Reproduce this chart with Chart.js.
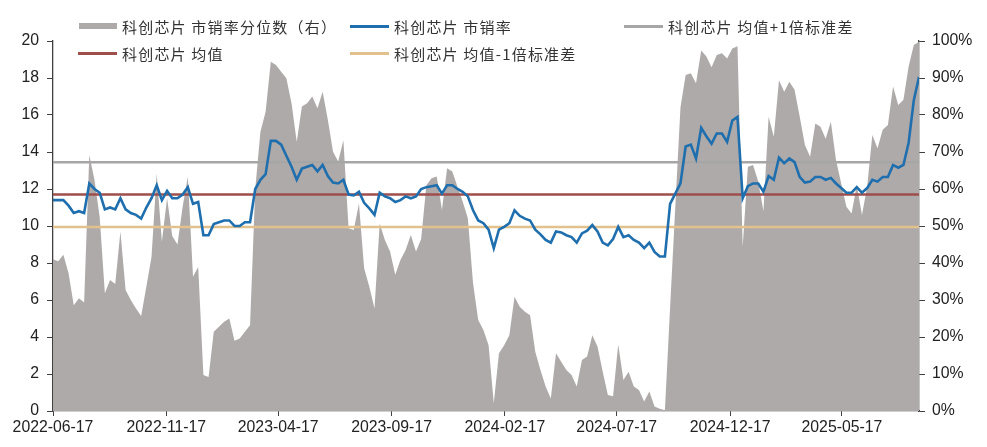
<!DOCTYPE html>
<html>
<head>
<meta charset="utf-8">
<script src="https://cdn.jsdelivr.net/npm/chart.js@4.4.1/dist/chart.umd.min.js"></script>
<style>
  body { margin: 0; background: #fff; }
  #wrap { position: relative; width: 987px; height: 447px; }
  #legend { position: absolute; left: 0; top: 0; width: 987px; height: 70px;
            font: 15px "Noto Sans CJK SC", sans-serif; color: #333; letter-spacing: 1.2px; }
  .item { position: absolute; display: flex; align-items: center; white-space: nowrap; height: 20px; }
  .sw { display: inline-block; margin-right: 5px; }
</style>
</head>
<body>
<div id="wrap">
  <canvas id="chart" width="987" height="447"></canvas>
  <div id="legend"></div>
</div>
<script>
/* === Data (weekly, from 2022-06-17) === */
const START = '2022-06-17';

// 科创芯片 市销率
const PS_RATIO = [
  11.4, 11.4, 11.4, 11.1, 10.7, 10.8, 10.7, 12.3, 12.0, 11.8,
  10.9, 11.0, 10.9, 11.5, 10.9, 10.7, 10.6, 10.4, 11.0, 11.5,
  12.2, 11.4, 11.9, 11.5, 11.5, 11.7, 12.1, 11.2, 11.3, 9.5,
  9.5, 10.1, 10.2, 10.3, 10.3, 10.0, 10.0, 10.2, 10.2, 12.0,
  12.5, 12.8, 14.6, 14.6, 14.4, 13.8, 13.2, 12.5, 13.1, 13.2,
  13.3, 12.95, 13.3, 12.7, 12.35, 12.3, 12.5, 11.7, 11.65, 11.85,
  11.25, 10.95, 10.6, 11.8, 11.6, 11.5, 11.3, 11.4, 11.6, 11.5,
  11.6, 12.0, 12.1, 12.15, 12.2, 11.75, 12.2, 12.2, 12.0, 11.85,
  11.6, 10.85, 10.3, 10.15, 9.8, 8.8, 9.8, 9.95, 10.15, 10.85,
  10.55, 10.4, 10.3, 9.8, 9.55, 9.25, 9.1, 9.7, 9.65, 9.5,
  9.4, 9.1, 9.6, 9.75, 10.05, 9.7, 9.1, 8.95, 9.3, 9.95,
  9.4, 9.5, 9.25, 9.1, 8.8, 9.1, 8.6, 8.35, 8.35, 11.2,
  11.75, 12.3, 14.3, 14.4, 13.65, 15.3, 14.85, 14.45, 15.0, 15.0,
  14.55, 15.7, 15.9, 11.5, 12.15, 12.3, 12.3, 11.85, 12.7, 12.5,
  13.7, 13.4, 13.65, 13.45, 12.65, 12.35, 12.4, 12.65, 12.65, 12.5,
  12.6, 12.3, 12.05, 11.8, 11.8, 12.1, 11.8, 12.05, 12.5, 12.4,
  12.65, 12.65, 13.3, 13.15, 13.3, 14.5, 16.8, 18.05
];

// 科创芯片 市销率分位数（右）, %
const PS_PCT = [
  41.0, 40.5, 42.2, 37.2, 28.6, 30.5, 29.3, 69.2, 62.4, 52.5,
  31.8, 35.4, 34.3, 48.5, 32.7, 30.0, 27.7, 25.7, 33.6, 41.7,
  64.2, 45.8, 57.5, 47.3, 45.0, 55.2, 63.3, 36.3, 38.9, 9.7,
  9.2, 21.4, 22.8, 24.1, 25.0, 19.0, 19.6, 21.4, 23.2, 60.0,
  75.5, 80.9, 94.4, 93.5, 91.7, 89.9, 83.2, 72.8, 82.3, 83.2,
  85.0, 81.8, 86.3, 78.7, 70.1, 67.4, 73.2, 49.4, 48.9, 56.1,
  38.6, 33.6, 27.7, 50.7, 46.2, 43.1, 36.8, 40.8, 43.5, 47.6,
  43.1, 46.5, 61.0, 62.9, 63.4, 54.3, 65.6, 64.7, 60.6, 56.6,
  52.1, 34.5, 24.6, 21.9, 17.8, 2.1, 15.6, 17.8, 20.5, 30.9,
  28.2, 26.8, 25.9, 16.0, 11.1, 6.6, 3.4, 15.6, 13.3, 11.1,
  9.7, 6.6, 13.8, 14.7, 20.5, 17.4, 10.7, 4.3, 4.0, 18.0,
  8.4, 10.6, 6.6, 5.7, 2.6, 5.3, 1.2, 0.6, 0.2, 28.0,
  55.0, 82.0, 90.8, 91.3, 88.6, 97.4, 95.8, 92.9, 96.2, 96.7,
  95.3, 98.0, 98.6, 44.4, 66.0, 66.5, 62.0, 54.0, 79.5, 74.1,
  89.4, 86.3, 89.0, 86.8, 79.5, 71.9, 68.7, 77.7, 76.8, 73.6,
  78.2, 67.8, 61.5, 55.2, 53.4, 61.1, 53.0, 60.6, 74.6, 71.0,
  76.0, 77.3, 87.7, 82.7, 84.1, 93.1, 98.9, 99.8
];

const MEAN  = 11.7;   // 均值
const UPPER = 13.45;  // 均值+1倍标准差
const LOWER = 9.95;   // 均值-1倍标准差

const X_TICKS = ['2022-06-17','2022-11-17','2023-04-17','2023-09-17',
                 '2024-02-17','2024-07-17','2024-12-17','2025-05-17'];

/* === Helpers === */
const DAY = 864e5;
const t0 = Date.parse(START + 'T00:00:00Z');
const dayOf = s => (Date.parse(s + 'T00:00:00Z') - t0) / DAY;
const fmt = d => new Date(t0 + d * DAY).toISOString().slice(0, 10);
const DAYS = PS_RATIO.map((_, i) => i * 7);
const LAST = DAYS[DAYS.length - 1];

const NAMES = ['科创芯片 市销率分位数（右）', '科创芯片 市销率', '科创芯片 均值+1倍标准差',
               '科创芯片 均值', '科创芯片 均值-1倍标准差'];
const COLORS = { area: '#AEAAAA', blue: '#1F6FAE', upper: '#A6A6A6', mean: '#9E4E4B', lower: '#E2C18C' };

const flat = v => [{ x: 0, y: v }, { x: LAST, y: v }];
const FONT = { family: '"Liberation Sans", Arial, sans-serif', size: 15.8 };
const AX = '#404040';

/* === Chart === */
new Chart(document.getElementById('chart'), {
  type: 'line',
  data: {
    datasets: [
      { label: NAMES[1], data: PS_RATIO.map((y, i) => ({ x: DAYS[i], y })), yAxisID: 'y',
        borderColor: COLORS.blue, borderWidth: 2.6, pointRadius: 0, order: 0 },
      { label: NAMES[2], data: flat(UPPER), yAxisID: 'y',
        borderColor: COLORS.upper, borderWidth: 2.6, pointRadius: 0, order: 1 },
      { label: NAMES[3], data: flat(MEAN), yAxisID: 'y',
        borderColor: COLORS.mean, borderWidth: 2.6, pointRadius: 0, order: 1 },
      { label: NAMES[4], data: flat(LOWER), yAxisID: 'y',
        borderColor: COLORS.lower, borderWidth: 2.6, pointRadius: 0, order: 1 },
      { label: NAMES[0], data: PS_PCT.map((y, i) => ({ x: DAYS[i], y })), yAxisID: 'y2',
        fill: 'origin', backgroundColor: COLORS.area, borderWidth: 0, pointRadius: 0, order: 5 }
    ]
  },
  options: {
    responsive: false,
    animation: false,
    layout: { padding: { top: 41, left: 0, right: 0, bottom: 0 } },
    plugins: { legend: { display: false }, tooltip: { enabled: false } },
    scales: {
      x: {
        type: 'linear', min: 0, max: LAST,
        afterBuildTicks: s => { s.ticks = X_TICKS.map(d => ({ value: dayOf(d) })); },
        afterFit: s => { s.height = 36; },
        ticks: { callback: v => fmt(v), autoSkip: false, maxRotation: 0, font: FONT, color: '#222', padding: 2 },
        grid: { drawOnChartArea: false, tickLength: 5, color: AX },
        border: { color: AX, width: 1.3 }
      },
      y: {
        position: 'left', min: 0, max: 20,
        afterFit: s => { s.width = 53; },
        ticks: { stepSize: 2, font: FONT, color: '#222', padding: 8 },
        grid: { drawOnChartArea: false, tickLength: 6, color: AX },
        border: { color: AX, width: 1.3 }
      },
      y2: {
        position: 'right', min: 0, max: 100,
        afterFit: s => { s.width = 68; },
        ticks: { stepSize: 10, callback: v => v + '%', font: FONT, color: '#222', padding: 7 },
        grid: { drawOnChartArea: false, tickLength: 6, color: AX },
        border: { color: AX, width: 1.3 }
      }
    }
  }
});

/* === Legend (fixed grid like the original) === */
const LEG = [
  { name: NAMES[0], color: COLORS.area,  box: true, x: 79,  y: 16 },
  { name: NAMES[1], color: COLORS.blue,  x: 350, y: 16 },
  { name: NAMES[2], color: COLORS.upper, x: 624, y: 16 },
  { name: NAMES[3], color: COLORS.mean,  x: 78,  y: 43 },
  { name: NAMES[4], color: COLORS.lower, x: 350, y: 43 }
];
const legend = document.getElementById('legend');
LEG.forEach(it => {
  const el = document.createElement('div');
  el.className = 'item';
  el.style.left = it.x + 'px';
  el.style.top = it.y + 'px';
  const sw = document.createElement('span');
  sw.className = 'sw';
  sw.style.width = (it.box ? 38 : 39) + 'px';
  sw.style.height = (it.box ? 6 : 3) + 'px';
  sw.style.background = it.color;
  const tx = document.createElement('span');
  tx.textContent = it.name;
  el.appendChild(sw);
  el.appendChild(tx);
  legend.appendChild(el);
});
</script>
</body>
</html>
